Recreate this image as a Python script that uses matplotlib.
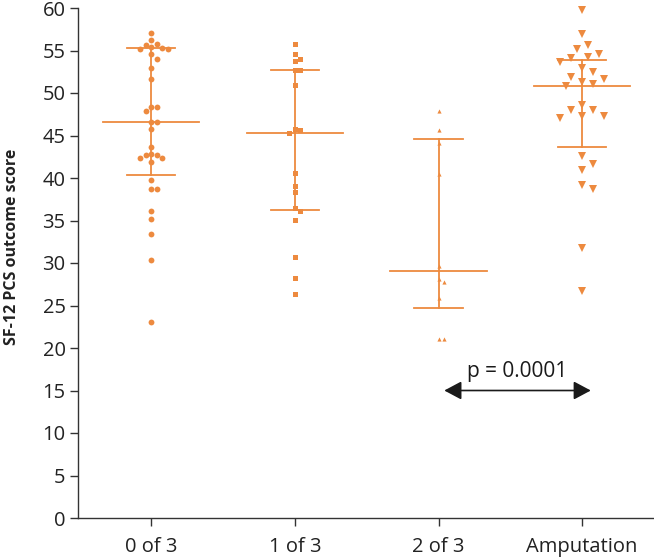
import numpy as np
import matplotlib
matplotlib.use("Agg")
import matplotlib.pyplot as plt

plt.rcParams['font.family'] = ['Open Sans', 'DejaVu Sans']

# groups on the x axis
groups = ['0 of 3', '1 of 3', '2 of 3', 'Amputation']

# SF-12 PCS scores
scores_0of3 = [57.1, 56.2, 55.8, 55.7, 55.45, 55.25, 55.2, 55.2, 54.55, 54.0,
               52.9, 51.7, 48.4, 48.3, 47.9, 46.6, 46.6, 45.8, 43.7, 42.8,
               42.7, 42.7, 42.4, 42.35, 41.9, 39.8, 38.7, 38.7, 36.15, 35.2,
               33.4, 30.35, 23.1]
scores_1of3 = [55.8, 54.55, 54.0, 53.8, 52.7, 52.7, 50.9, 45.8, 45.6, 45.3,
               40.55, 39.1, 38.35, 36.5, 36.15, 35.1, 30.7, 28.2, 26.4]
scores_2of3 = [47.9, 45.6, 44.1, 40.5, 29.7, 28.1, 27.8, 25.85, 21.1, 21.1]
scores_amp = [59.8, 56.9, 55.65, 55.2, 54.6, 54.2, 54.1, 53.6, 52.9, 52.5,
              51.9, 51.7, 51.3, 51.1, 50.8, 48.6, 48.0, 48.0, 47.3, 47.3,
              47.1, 42.6, 41.6, 40.9, 39.2, 38.7, 31.8, 26.7]

# centre line and whisker ends per group
centre = [46.55, 45.3, 29.1, 50.8]
upper = [55.33, 52.7, 44.6, 53.9]
lower = [40.4, 36.2, 24.7, 43.6]

p_text = 'p = 0.0001'
p_y = 15

orange = '#ED8A3F'
W, H = 654, 557
fig = plt.figure(figsize=(W / 100, H / 100), dpi=100)
ax = fig.add_axes([78 / W, 1 - 518 / H, 1 - 78 / W, (518 - 8) / H])
ax.set_xlim(-0.51, 3.5)
ax.set_ylim(0, 60)

# pixels per data unit, used for the swarm layout
px_x = ax.get_position().width * W / 4.01
px_y = ax.get_position().height * H / 60


def swarm(values, diam):
    #place each point at the smallest offset not overlapping earlier points
    placed = []
    offs = []
    for v in values:
        yv = v * px_y
        k = 0
        while True:
            cands = [0.0] if k == 0 else [k * diam / 2, -k * diam / 2]
            ok = None
            for c in cands:
                if all((c - px) ** 2 + (yv - py) ** 2 >= diam ** 2 * 0.95
                       for px, py in placed):
                    ok = c
                    break
            if ok is not None:
                break
            k += 1
        placed.append((ok, yv))
        offs.append(ok / px_x)
    return np.array(offs)


series = [scores_0of3, scores_1of3, scores_2of3, scores_amp]
markers = ['o', 's', '^', 'v']
msizes = [4.2, 3.6, 3.0, 5.2]
diams = [5.6, 5.6, 5.0, 11.0]

for i, vals in enumerate(series):
    offs = swarm(vals, diams[i])
    ax.plot(i + offs, vals, linestyle='none', marker=markers[i],
            markersize=msizes[i], color=orange, markeredgewidth=0, zorder=3,
            clip_on=False)
    #centre line, whisker and caps
    ax.plot([i - 0.335, i + 0.335], [centre[i]] * 2, color=orange, lw=1.3)
    ax.plot([i, i], [lower[i], upper[i]], color=orange, lw=1.3)
    for y in (lower[i], upper[i]):
        ax.plot([i - 0.168, i + 0.168], [y, y], color=orange, lw=1.3)

# significance arrow between 2 of 3 and amputation
ax.annotate('', xy=(2.04, p_y), xytext=(3.06, p_y),
            arrowprops=dict(arrowstyle='<|-|>,head_length=0.75,head_width=0.4',
                            color='#1a1a1a', lw=1.2, shrinkA=0, shrinkB=0,
                            mutation_scale=14))
ax.text(2.55, p_y + 1.0, p_text, ha='center', va='bottom', fontsize=15,
        color='#1a1a1a')

ax.set_xticks(range(4))
ax.set_xticklabels(groups)
ax.set_yticks(range(0, 61, 5))
ax.tick_params(axis='both', labelsize=14.5, colors='#333333', length=6,
               width=1, labelcolor='#222222')
ax.tick_params(axis='y', pad=3)
ax.tick_params(axis='x', pad=8)
ax.set_ylabel('SF-12 PCS outcome score', fontsize=11.5, fontweight='bold',
              color='#222222')
ax.yaxis.set_label_coords(-0.1, 0.531)
for s in ('top', 'right'):
    ax.spines[s].set_visible(False)
for s in ('left', 'bottom'):
    ax.spines[s].set_color('#333333')
    ax.spines[s].set_linewidth(1)

fig.savefig('out.png', dpi=100)
